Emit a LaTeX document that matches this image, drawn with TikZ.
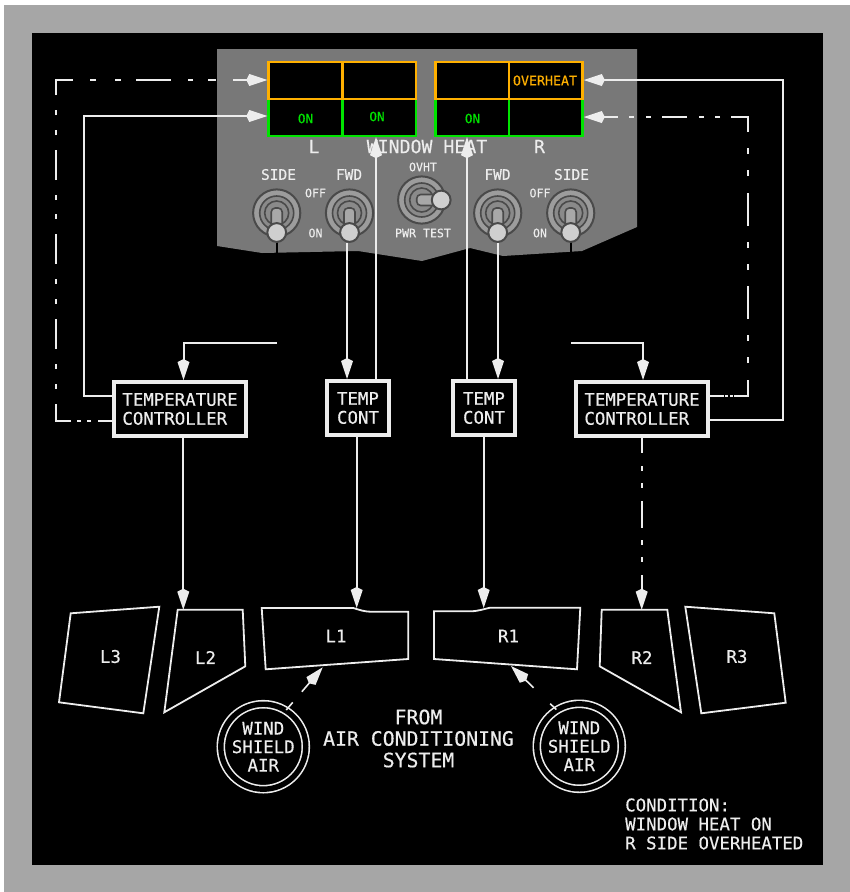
\documentclass[tikz,border=0pt]{standalone}
\usepackage{fontspec}
\setmainfont{DejaVu Sans Mono}[FakeBold=0.4]
\usetikzlibrary{arrows.meta}
\definecolor{ink}{HTML}{EDEDED}
\definecolor{frame}{HTML}{A6A6A6}
\definecolor{panel}{HTML}{787878}
\definecolor{amber}{HTML}{FFB000}
\definecolor{lamp}{HTML}{00E400}
\newcommand{\fnt}[2]{\fontsize{#1pt}{#2pt}\selectfont}
\newcommand{\toggle}[3]{%
  \begin{scope}[shift={(#1,#2)},rotate=#3]
    \fill[fill=swouter,draw=swedge,line width=2pt] (0,0) circle[radius=23.6];
    \fill[fill=swmid,draw=swedge,line width=1.6pt] (0,0) circle[radius=17];
    \fill[fill=swmid,draw=swedge,line width=1.6pt] (0,0) circle[radius=12];
    \filldraw[fill=swlever,draw=swedge,line width=1.6pt,rounded corners=4pt] (-5.5,-5) rectangle (5.5,14);
    \filldraw[fill=swball,draw=swedge,line width=2pt] (0,19.5) circle[radius=9.4];
  \end{scope}}
\definecolor{swouter}{HTML}{9C9C9C}
\definecolor{swmid}{HTML}{8A8A8A}
\definecolor{swedge}{HTML}{4A4A4A}
\definecolor{swlever}{HTML}{A8A8A8}
\definecolor{swball}{HTML}{CFCFCF}
\tikzset{
  txt/.style={text=ink,inner sep=0pt,align=center,font=\fnt{17.4}{19}},
  pnl/.style={text=ink,inner sep=0pt,align=center,font=\fnt{14.5}{16}},
  pnls/.style={text=ink,inner sep=0pt,align=center,font=\fnt{11.6}{13}},
  ttl/.style={text=ink,inner sep=0pt,font=\fnt{18.2}{20}},
  lamptxt/.style={inner sep=0pt,font=\fnt{12.6}{14}},
  cell/.style={draw,line width=2.4pt,fill=black,minimum width=73.7pt,minimum height=37pt,inner sep=0pt},
  ctl/.style={draw=ink,line width=4pt,fill=black,text=ink,inner sep=0pt,font=\fnt{17.4}{19},minimum height=54pt},
  wline/.style={draw=ink,line width=2pt},
  thin/.style={draw=ink,line width=1.6pt},
  win/.style={draw=ink,line width=1.8pt,line join=miter},
  tip/.style={-{Kite[length=21pt,width=12pt,inset=3pt]}},
  air/.style={circle,draw=ink,line width=1.6pt,double=black,double distance=5.4pt,fill=black,text=ink,
              minimum size=85pt,inner sep=0pt,align=center,font=\fnt{17.4}{18.5}},
}
\begin{document}
\begin{tikzpicture}[x=1pt,y=-1pt]
\useasboundingbox (0,0) rectangle (850,892);
\fill[white] (0,0) rectangle (850,892);
\fill[frame] (4,5) rectangle (850,892);
\fill[black] (32,33) rectangle (823,865);
% panel
\fill[panel] (217,49) -- (637,49) -- (637,227) -- (582,251) -- (503,256) -- (470,248) -- (422,261) -- (358,251) -- (262,253) -- (217,246) -- cycle;
% annunciators
\node[cell,draw=lamp] (gL1) at (305.4,117.5) {};
\node[cell,draw=lamp] (gL2) at (379.2,117.5) {};
\node[cell,draw=lamp] (gR1) at (472.2,117.5) {};
\node[cell,draw=lamp] (gR2) at (545.7,117.5) {};
\node[cell,draw=amber] (oL1) at (305.4,80.5) {};
\node[cell,draw=amber] (oL2) at (379.2,80.5) {};
\node[cell,draw=amber] (oR1) at (472.2,80.5) {};
\node[cell,draw=amber] (oR2) at (545.7,80.5) {};
\node[lamptxt,text=lamp] (on1) at (305.5,118.5) {ON};
\node[lamptxt,text=lamp] (on2) at (377,116.5) {ON};
\node[lamptxt,text=lamp] (on3) at (472.5,118.5) {ON};
\node[lamptxt,text=amber,font=\fnt{13.3}{15}] (ovh) at (545,80.5) {OVERHEAT};
% panel labels
\node[ttl] (tL) at (314,146.5) {L};
\node[ttl] (tR) at (539.5,146.5) {R};
\node[ttl] (tW) at (427,146.5) {WINDOW HEAT};
\node[pnl] (s1) at (278.5,174.5) {SIDE};
\node[pnl] (f1) at (349,174.5) {FWD};
\node[pnl] (f2) at (497.5,174.5) {FWD};
\node[pnl] (s2) at (571.5,174.5) {SIDE};
\node[pnls] (off1) at (315.5,193) {OFF};
\node[pnls] (on4) at (315.5,233) {ON};
\node[pnls] (off2) at (540,193) {OFF};
\node[pnls] (on5) at (540,233) {ON};
\node[pnls] (ovht) at (423,167) {OVHT};
\node[pnls] (pwr) at (423,233) {PWR TEST};
% stubs below the side switches
\draw[black,line width=2pt] (277,240) -- (277,254);
\draw[black,line width=2pt] (571,240) -- (571,252);
\toggle{276.7}{213}{0}
\toggle{349.5}{213}{0}
\toggle{421.7}{200}{90}
\toggle{497.7}{213}{0}
\toggle{570.7}{213}{0}
% controllers
\node[ctl,minimum width=132pt,align=left] (tcL) at (180,409) {TEMPERATURE\\CONTROLLER};
\node[ctl,minimum width=132pt,align=left] (tcR) at (642,409) {TEMPERATURE\\CONTROLLER};
\node[ctl,minimum width=62pt,align=center] (fcL) at (358,408) {TEMP\\CONT};
\node[ctl,minimum width=62pt,align=center] (fcR) at (484,408) {TEMP\\CONT};
% free ends
\coordinate (feedL) at (277,343);
\coordinate (feedR) at (571,343);
\coordinate (swL) at (347,243);
\coordinate (swR) at (498,243);
% window outlines
\coordinate (L2top) at (183.3,609.7);
\coordinate (L1top) at (356.7,608);
\coordinate (R1top) at (483.7,608);
\coordinate (R2top) at (641.7,609.7);
\coordinate (L1air) at (322.7,667.3);
\coordinate (R1air) at (511,666);
\draw[win] (70.7,613.3) -- (159.3,606.7) -- (143.3,713.3) -- (59,702.3) -- cycle;
\draw[win] (177.7,609.7) -- (242.7,609.7) -- (245.3,666.3) -- (164.3,712.3) -- cycle;
\draw[win] (261.7,608) -- (353.3,608) .. controls (360,610) and (364,611.7) .. (371.7,611.7) -- (408.3,611.7) -- (408.3,659) -- (265.7,669.3) -- cycle;
\draw[win] (434,611.3) -- (470,611.3) .. controls (478,611.3) and (484,609) .. (490,607.7) -- (580.3,607.7) -- (577,669.3) -- (434,659) -- cycle;
\draw[win] (601.7,609.7) -- (667.3,609.7) -- (681,712.3) -- (599.7,666.3) -- cycle;
\draw[win] (685.3,606.7) -- (774.3,613.3) -- (785.7,702.7) -- (701.3,713.3) -- cycle;
\node[txt] (nL3) at (110.5,656.5) {L3};
\node[txt] (nL2) at (205.5,657.5) {L2};
\node[txt] (nL1) at (336,636) {L1};
\node[txt] (nR1) at (508.5,636) {R1};
\node[txt] (nR2) at (642,657.5) {R2};
\node[txt] (nR3) at (737,656.5) {R3};
% air sources
\node[air] (airL) at (263.3,746.7) {WIND\\SHIELD\\AIR};
\node[air] (airR) at (579.3,746.3) {WIND\\SHIELD\\AIR};
\node[txt,font=\fnt{19.8}{21.5}] (from) at (418.5,738.5) {FROM\\AIR CONDITIONING\\SYSTEM};
\node[txt,align=left,anchor=west] (cond) at (625,824) {CONDITION:\\WINDOW HEAT ON\\R SIDE OVERHEATED};
% connectors
\draw[wline,tip] (feedL) -- (183.5,343) -- (tcL.north -| 183.5,0);
\draw[wline,tip] (feedR) -- (643,343) -- (tcR.north -| 643,0);
\draw[wline,tip] (swL) -- (fcL.north -| 347,0);
\draw[wline,tip] (swR) -- (fcR.north -| 498,0);
\draw[wline,tip] (fcL.north -| 376,0) -- (gL2.south -| 376,0);
\draw[wline,tip] (fcR.north -| 467,0) -- (gR1.south -| 467,0);
\draw[wline,tip] (tcL.west |- 0,396) -- (84,396) -- (84,116) -- (gL1.west |- 0,116);
\draw[wline,tip] (tcR.east |- 0,420) -- (783,420) -- (783,80) -- (oR2.east |- 0,80);
\draw[wline,tip] (tcL.south -| 183.3,0) -- (L2top);
\draw[wline,tip] (fcL.south -| 356.7,0) -- (L1top);
\draw[wline,tip] (fcR.south -| 483.7,0) -- (R1top);
\draw[wline,tip,dash pattern=on 15pt off 13pt on 5pt off 12pt on 5pt off 13pt on 27pt off 12pt on 5pt off 12pt on 5pt off 13pt on 100pt]
  (tcR.south -| 641.7,0) -- (R2top);
\draw[wline,tip,dash pattern=on 14pt off 7pt on 4pt off 6pt on 4pt off 6pt on 32pt off 15pt on 5pt off 15pt on 5pt off 15pt on 30pt off 15pt on 5pt off 15pt on 5pt off 15pt on 30pt off 15pt on 5pt off 14pt on 5pt off 15pt on 30pt off 15pt on 5pt off 15pt on 5pt off 15pt on 32pt off 17pt on 6pt off 19pt on 6pt off 15pt on 35pt off 17pt on 5pt off 15pt on 8pt off 17pt on 100pt]
  (tcL.west |- 0,421) -- (56,421) -- (56,80) -- (oL1.west |- 0,80);
\draw[wline,tip,dash pattern=on 14pt off 1pt on 3pt off 2pt on 3pt off 1pt on 30pt off 17pt on 6pt off 16pt on 6pt off 16pt on 33pt off 16pt on 6pt off 16pt on 6pt off 16pt on 33pt off 17pt on 6pt off 16pt on 6pt off 16pt on 32pt off 11pt on 5pt off 11pt on 5pt off 12pt on 25pt off 11pt on 5pt off 12pt on 5pt off 11pt on 100pt]
  (tcR.east |- 0,396) -- (748,396) -- (748,117) -- (gR2.east |- 0,117);
\draw[thin,tip,dash pattern=on 10pt off 14pt on 100pt] (airL.58) -- (L1air);
\draw[thin,tip,dash pattern=on 8.5pt off 23pt on 100pt] (airR.122) -- (R1air);
\end{tikzpicture}
\end{document}
